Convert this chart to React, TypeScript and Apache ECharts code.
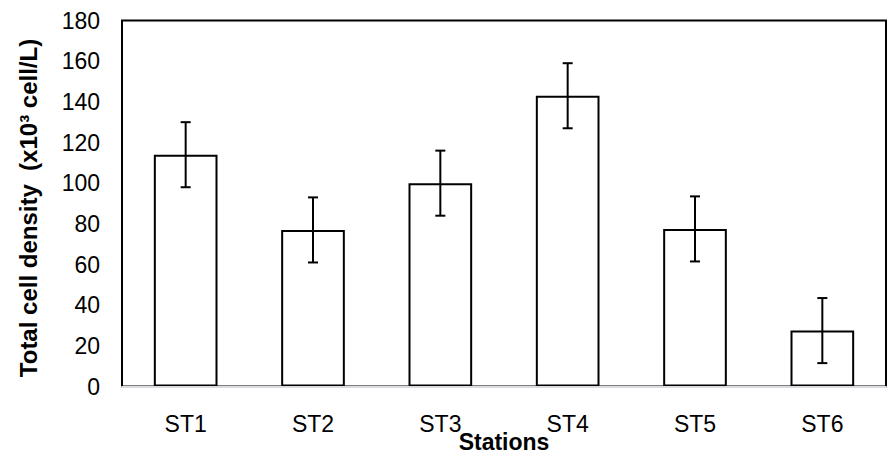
import React, { useEffect, useRef } from "react";
import * as echarts from "echarts";

// Mean total cell density per station (x10^3 cell/L) and its error (±)
const stations = ["ST1", "ST2", "ST3", "ST4", "ST5", "ST6"];
const density = [114, 77, 100, 143, 77.5, 27.5];
const errors = [16, 16, 16, 16, 16, 16];
const yTicks = { min: 0, max: 180, interval: 20 };

const FONT = "'Liberation Sans', Arial, sans-serif";

export default function App() {
  const ref = useRef<HTMLDivElement>(null);

  useEffect(() => {
    document.body.style.margin = "0";
    if (!ref.current) return;
    const chart = echarts.init(ref.current, null, { renderer: "svg" });

    const errData = stations.map((_, i) => [i, density[i] - errors[i], density[i] + errors[i]]);

    chart.setOption({
      animation: false,
      backgroundColor: "#ffffff",
      grid: {
        left: 122,
        right: 2,
        top: 20.5,
        bottom: 71.5,
        show: true,
        borderColor: "#000000",
        borderWidth: 2,
        backgroundColor: "transparent",
      },
      xAxis: {
        type: "category",
        data: stations,
        axisLine: { show: true, lineStyle: { color: "#d9dde2", width: 2 } },
        axisTick: { show: false },
        axisLabel: { color: "#000", fontFamily: FONT, fontSize: 23, margin: 26 },
        z: 5,
      },
      yAxis: {
        type: "value",
        min: yTicks.min,
        max: yTicks.max,
        interval: yTicks.interval,
        splitLine: { show: false },
        axisLine: { show: false },
        axisTick: { show: false },
        axisLabel: { color: "#000", fontFamily: FONT, fontSize: 23, margin: 22 },
      },
      graphic: [
        {
          type: "text",
          x: 28,
          y: 208,
          rotation: Math.PI / 2,
          style: {
            text: "Total cell density  (x10³ cell/L)",
            fontFamily: FONT,
            fontSize: 24,
            fontWeight: "bold",
            fill: "#000",
            align: "center",
            verticalAlign: "middle",
          },
        },
        {
          type: "text",
          x: 504,
          y: 442,
          style: {
            text: "Stations",
            fontFamily: FONT,
            fontSize: 23,
            fontWeight: "bold",
            fill: "#000",
            align: "center",
            verticalAlign: "middle",
          },
        },
      ],
      series: [
        {
          type: "bar",
          data: density,
          barWidth: "50%",
          itemStyle: { color: "#ffffff", borderColor: "#000000", borderWidth: 2 },
          z: 2,
        },
        {
          type: "custom",
          data: errData,
          z: 10,
          renderItem: (params: any, api: any) => {
            const x = api.value(0);
            const lo = api.coord([x, api.value(1)]);
            const hi = api.coord([x, api.value(2)]);
            const cap = 5;
            const style = { stroke: "#000", lineWidth: 2 };
            return {
              type: "group",
              children: [
                { type: "line", shape: { x1: hi[0], y1: hi[1], x2: lo[0], y2: lo[1] }, style },
                { type: "line", shape: { x1: hi[0] - cap, y1: hi[1], x2: hi[0] + cap, y2: hi[1] }, style },
                { type: "line", shape: { x1: lo[0] - cap, y1: lo[1], x2: lo[0] + cap, y2: lo[1] }, style },
              ],
            };
          },
        },
      ],
    });

    return () => chart.dispose();
  }, []);

  return <div ref={ref} style={{ width: 888, height: 458 }} />;
}
